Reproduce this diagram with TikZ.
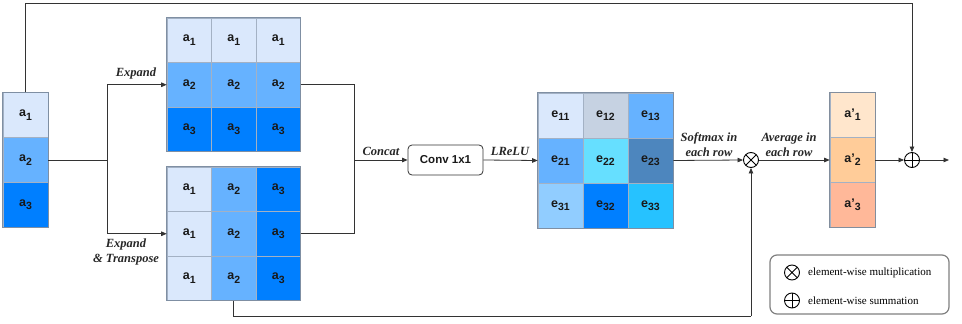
\documentclass[tikz,border=0pt]{standalone}
\usepackage{fontspec}
\setmainfont{Liberation Serif}
\setsansfont{Liberation Sans}
\usetikzlibrary{arrows.meta}
\definecolor{bL}{HTML}{DAE8FC}
\definecolor{bM}{HTML}{66B2FF}
\definecolor{bD}{HTML}{007FFF}
\definecolor{eA}{HTML}{C6D2E2}
\definecolor{eB}{HTML}{66DFFF}
\definecolor{eC}{HTML}{4D86BE}
\definecolor{eD}{HTML}{91CDFF}
\definecolor{eE}{HTML}{26C2FF}
\definecolor{oA}{HTML}{FFE6CC}
\definecolor{oB}{HTML}{FFCC99}
\definecolor{oC}{HTML}{FFB899}
\definecolor{cellline}{HTML}{A3B1C4}
\definecolor{frameline}{HTML}{7F8FA3}
\definecolor{wire}{HTML}{333333}
\definecolor{legline}{HTML}{808080}
\newcommand\sbs[1]{\raisebox{-3.3pt}{\fontsize{10.5}{11}\selectfont #1}}
\begin{document}
\begin{tikzpicture}[x=1pt,y=-1pt,
  cell/.style={draw=cellline, line width=0.6pt, minimum width=44.5pt, minimum height=44.5pt, inner sep=0pt, font=\sffamily\bfseries\fontsize{12.5}{14}\selectfont, text=black!90},
  ecell/.style={cell, minimum width=45pt, minimum height=45pt},
  frame/.style={draw=frameline, line width=0.9pt},
  wireline/.style={draw=wire, line width=0.8pt},
  arr/.style={wireline, -{Triangle[length=5.5pt,width=4.5pt]}},
  lab/.style={font=\rmfamily\bfseries\itshape\fontsize{12.5}{15}\selectfont, text=black!85, align=center, inner sep=1pt},
  opsym/.style={circle, draw=black, line width=0.9pt, minimum size=15pt, inner sep=0pt},
  otimes/.style={opsym, path picture={\draw[line width=0.9pt] (path picture bounding box.north west)--(path picture bounding box.south east) (path picture bounding box.north east)--(path picture bounding box.south west);}},
  oplus/.style={opsym, path picture={\draw[line width=0.9pt] (path picture bounding box.north)--(path picture bounding box.south) (path picture bounding box.west)--(path picture bounding box.east);}},
]
\useasboundingbox (0,0) rectangle (962,324);

% left column
\node[cell, fill=bL, minimum width=45pt] (a1) at (25.5,115) {a\sbs{1}};
\node[cell, fill=bM, minimum width=45pt] (a2) at (25.5,160) {a\sbs{2}};
\node[cell, fill=bD, minimum width=45pt] (a3) at (25.5,205) {a\sbs{3}};
\draw[frame] (a1.north west) rectangle (a3.south east);

% top matrix (Expand)
\foreach \c/\x in {1/189.25,2/233.75,3/278.25}{
  \node[cell, fill=bL] (t1\c) at (\x,40.25) {a\sbs{1}};
  \node[cell, fill=bM] (t2\c) at (\x,84.75) {a\sbs{2}};
  \node[cell, fill=bD] (t3\c) at (\x,129.25) {a\sbs{3}};
}
\draw[frame] (t11.north west) rectangle (t33.south east);

% bottom matrix (Expand & Transpose)
\foreach \r/\y in {1/189.25,2/233.75,3/278.25}{
  \node[cell, fill=bL] (b\r1) at (189.25,\y) {a\sbs{1}};
  \node[cell, fill=bM] (b\r2) at (233.75,\y) {a\sbs{2}};
  \node[cell, fill=bD] (b\r3) at (278.25,\y) {a\sbs{3}};
}
\draw[frame] (b11.north west) rectangle (b33.south east);

% conv
\node[draw=wire, line width=0.8pt, rounded corners=4pt, minimum width=75pt, minimum height=30pt, inner sep=0pt, font=\sffamily\bfseries\fontsize{11.5}{14}\selectfont, text=black!90] (conv) at (445.5,160) {Conv 1x1};

% e matrix
\node[ecell, fill=bL] (e11) at (560.5,115.5) {e\sbs{11}};
\node[ecell, fill=eA] (e12) at (605.5,115.5) {e\sbs{12}};
\node[ecell, fill=bM] (e13) at (650.5,115.5) {e\sbs{13}};
\node[ecell, fill=bM] (e21) at (560.5,160.5) {e\sbs{21}};
\node[ecell, fill=eB] (e22) at (605.5,160.5) {e\sbs{22}};
\node[ecell, fill=eC] (e23) at (650.5,160.5) {e\sbs{23}};
\node[ecell, fill=eD] (e31) at (560.5,205.5) {e\sbs{31}};
\node[ecell, fill=bD] (e32) at (605.5,205.5) {e\sbs{32}};
\node[ecell, fill=eE] (e33) at (650.5,205.5) {e\sbs{33}};
\draw[frame] (e11.north west) rectangle (e33.south east);

% output column
\node[cell, fill=oA, minimum width=45pt] (o1) at (852.5,115) {a'\sbs{1}};
\node[cell, fill=oB, minimum width=45pt] (o2) at (852.5,160) {a'\sbs{2}};
\node[cell, fill=oC, minimum width=45pt] (o3) at (852.5,205) {a'\sbs{3}};
\draw[frame, draw=cellline!80!black] (o1.north west) rectangle (o3.south east);

% operators
\node[otimes] (mul) at (751,160) {};
\node[oplus] (add) at (912,160) {};

% coordinates
\coordinate (br) at (107,160);
\coordinate (cc) at (354,160);
\coordinate (topL) at (25.5,3);
\coordinate (topR) at (912,3);
\coordinate (botL) at (233.75,316);
\coordinate (botR) at (751,316);
\coordinate (out) at (949,160);

% connectors
\draw[wireline] (a2.east) -- (br);
\draw[arr] (br) |- (t21.west);
\draw[arr] (br) |- (b21.west);
\draw[wireline] (t23.east) -| (cc);
\draw[wireline] (b23.east) -| (cc);
\draw[arr] (cc) -- (conv.west);
\draw[arr] (conv.east) -- (e21.west);
\draw[arr] (e23.east) -- (mul.west);
\draw[arr] (mul.east) -- (o2.west);
\draw[arr] (o2.east) -- (add.west);
\draw[arr] (add.east) -- (out);
\draw[wireline] (a1.north) -- (topL) -- (topR);
\draw[arr] (topR) -- (add.north);
\draw[wireline] (b32.south) -- (botL) -- (botR);
\draw[arr] (botR) -- (mul.south);

% labels
\node[lab] (lexp) at (136,73) {Expand};
\node[lab] (lexpt) at (126,252) {Expand\\\& Transpose};
\node[lab] (lcat) at (381,151) {Concat};
\node[lab] (lrelu) at (510,151) {LReLU};
\node[lab] (lsoft) at (709,145) {Softmax in\\each row};
\node[lab] (lavg) at (789,145) {Average in\\each row};

% legend
\node[draw=legline, line width=1.2pt, rounded corners=7pt, minimum width=179pt, minimum height=59pt] (legend) at (859.5,284.5) {};
\node[otimes] (lmul) at (792,272.5) {};
\node[oplus] (ladd) at (792,300.5) {};
\node[anchor=west, inner sep=0pt, font=\rmfamily\fontsize{11}{13}\selectfont] (tmul) at (808,272.5) {element-wise multiplication};
\node[anchor=west, inner sep=0pt, font=\rmfamily\fontsize{11}{13}\selectfont] (tadd) at (808,300.5) {element-wise summation};
\end{tikzpicture}
\end{document}
